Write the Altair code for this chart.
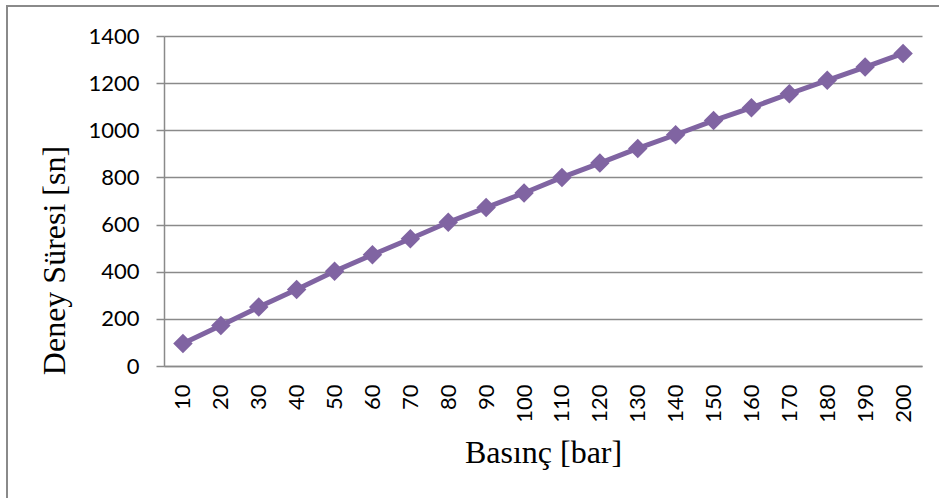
import altair as alt
import pandas as pd

pressure = ["10", "20", "30", "40", "50", "60", "70", "80", "90", "100",
            "110", "120", "130", "140", "150", "160", "170", "180", "190", "200"]
duration = [95, 172, 250, 325, 402, 472, 540, 610, 672, 734,
            800, 861, 923, 981, 1041, 1096, 1155, 1212, 1268, 1326]
y_ticks = [0, 200, 400, 600, 800, 1000, 1200, 1400]

df = pd.DataFrame({"pressure": pressure, "duration": duration})

PURPLE = "#8064A2"
GRAY = "#8a8a8a"

x_enc = alt.X(
    "pressure:O",
    sort=pressure,
    scale=alt.Scale(type="point", padding=0.5),
    axis=alt.Axis(
        title="Basınç [bar]",
        labelAngle=-90,
        ticks=False,
        tickSize=0,
        labelPadding=18,
        labelFont="Lato",
        labelFontSize=22,
        labelColor="#000000",
        domainColor=GRAY,
        domainWidth=1.5,
        grid=False,
        titleFont="Liberation Serif",
        titleFontSize=32,
        titleFontWeight="normal",
        titleColor="#000000",
        titleX=379,
        titleY=96,
        titleAlign="center",
        titleBaseline="alphabetic",
    ),
)

y_enc = alt.Y(
    "duration:Q",
    scale=alt.Scale(domain=[0, 1400], nice=False, zero=True),
    axis=alt.Axis(
        title="Deney Süresi [sn]",
        values=y_ticks,
        format="d",
        grid=True,
        gridColor=GRAY,
        gridWidth=1.5,
        domainColor=GRAY,
        domainWidth=1.5,
        tickColor=GRAY,
        tickWidth=1.5,
        tickSize=8,
        labelPadding=17,
        labelFont="Lato",
        labelFontSize=22,
        labelColor="#000000",
        titleFont="Liberation Serif",
        titleFontSize=32,
        titleFontWeight="normal",
        titleColor="#000000",
        titleAngle=270,
        titleX=-100,
        titleY=224,
        titleAlign="center",
        titleBaseline="alphabetic",
    ),
)

base = alt.Chart(df)
line = base.mark_line(color=PURPLE, strokeWidth=5).encode(x=x_enc, y=y_enc)
pts = base.mark_point(shape="diamond", filled=True, size=380, color=PURPLE, opacity=1).encode(
    x=alt.X("pressure:O", sort=pressure), y="duration:Q"
)

frame_data = alt.Data(values=[{"k": 1}])
left_border = alt.Chart(frame_data).mark_rule(color=GRAY, strokeWidth=2).encode(
    x=alt.value(-157), y=alt.value(-30), y2=alt.value(470)
)
top_border = alt.Chart(frame_data).mark_rule(color=GRAY, strokeWidth=2).encode(
    x=alt.value(-158), x2=alt.value(780), y=alt.value(-30)
)

chart = (
    alt.layer(line, pts, left_border, top_border)
    .properties(
        width=758,
        height=330,
        padding={"left": 164, "top": 36, "right": 17, "bottom": 132},
        autosize=alt.AutoSizeParams(type="none"),
        background="#ffffff",
    )
    .configure_view(stroke="transparent", strokeWidth=0)
)

chart.save("out.html", embed_options={"renderer": "svg", "actions": False})
